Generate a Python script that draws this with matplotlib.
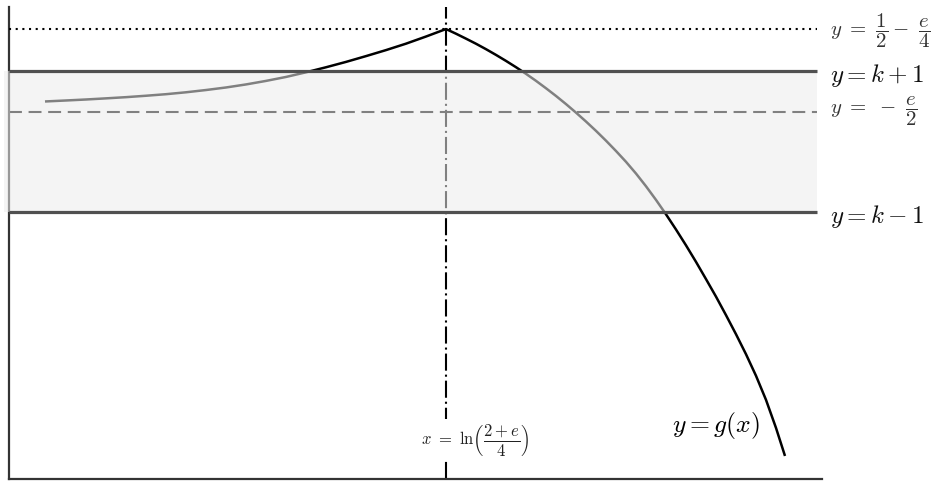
import numpy as np
import matplotlib
matplotlib.use("Agg")
import matplotlib.pyplot as plt

plt.rcParams['mathtext.fontset'] = 'cm'
plt.rcParams['font.family'] = ['DejaVu Sans']

# ---- data ----
E = np.e
x_peak = np.log((2 + E) / 4)          # x = ln((2+e)/4)
y_peak = 0.5 - E / 4                  # y = 1/2 - e/4
y_half_e = -E / 2                     # y = -e/2
k = -1.775
y_k_plus = k + 1
y_k_minus = k - 1

curve_x = [-3.845, -3.635, -3.435, -3.235, -3.035, -2.835, -2.635, -2.435, -2.235, -2.035,
           -1.835, -1.635, -1.435, -1.235, -1.035, -0.835, -0.635, -0.435, -0.235, -0.035,
           0.165,
           0.265, 0.365, 0.465, 0.565, 0.665, 0.765, 0.865, 0.965, 1.065, 1.165,
           1.265, 1.365, 1.465, 1.565, 1.665, 1.765, 1.865, 1.965, 2.065, 2.165,
           2.265, 2.365, 2.465, 2.565, 2.665, 2.765, 2.865, 2.965, 3.065, 3.165,
           3.265, 3.365, 3.465, 3.555]
curve_y = [-1.205, -1.191, -1.177, -1.161, -1.144, -1.124, -1.102, -1.075, -1.043, -1.007,
           -0.964, -0.914, -0.858, -0.792, -0.721, -0.645, -0.563, -0.478, -0.387, -0.286,
           -0.180,
           -0.246, -0.316, -0.388, -0.465, -0.546, -0.631, -0.720, -0.814, -0.913, -1.018,
           -1.127, -1.242, -1.363, -1.489, -1.621, -1.760, -1.906, -2.059, -2.225, -2.405,
           -2.598, -2.802, -3.017, -3.241, -3.475, -3.719, -3.967, -4.229, -4.499, -4.782,
           -5.087, -5.428, -5.825, -6.222]

x_min, x_max = -4.205, 3.925
y_min, y_max = -6.548, 0.132
line_end = 3.875

fig = plt.figure(figsize=(9.39, 4.88), dpi=100)
ax = fig.add_axes([9 / 939, 9 / 488, (822 - 9) / 939, (480 - 8) / 488])
ax.set_xlim(x_min, x_max)
ax.set_ylim(y_min, y_max)
ax.set_xticks([])
ax.set_yticks([])
for s in ['top', 'right']:
    ax.spines[s].set_visible(False)
for s in ['left', 'bottom']:
    ax.spines[s].set_color('#333333')
    ax.spines[s].set_linewidth(1.6)
    ax.spines[s].set_zorder(2)

# curve
ax.plot(curve_x, curve_y, color='black', lw=1.8, zorder=2,
        solid_capstyle='butt', solid_joinstyle='round')

# vertical dash-dot line
ax.plot([x_peak, x_peak], [y_min, y_max], color='black', lw=1.5,
        dashes=(8.2, 1.9, 1.0, 1.9), zorder=2)

# dashed -e/2 line
ax.plot([x_min, line_end], [y_half_e, y_half_e], color='black', lw=1.5,
        dashes=(6.2, 3.2), zorder=2)

# shaded band (overlay)
ax.fill_between([x_min - 0.05, line_end], y_k_minus, y_k_plus, color='0.92',
                alpha=0.55, lw=0, zorder=3, clip_on=False)

# k+1, k-1 lines
for yy in (y_k_plus, y_k_minus):
    ax.plot([x_min, line_end], [yy, yy], color='#505050', lw=2.3, zorder=4,
            solid_capstyle='butt')

# dotted peak line
ax.plot([x_min, line_end], [y_peak, y_peak], color='black', lw=1.5,
        linestyle=(0, (1, 2.2)), zorder=4)

# labels
tx = x_max + 0.08
ax.text(tx, y_peak - 0.03, r'$y\ =\ \dfrac{1}{2}-\ \dfrac{e}{4}$', fontsize=15,
        color='#333333', va='center', ha='left', clip_on=False)
ax.text(tx, y_k_plus - 0.06, r'$y=k+1$', fontsize=18, color='#111111',
        va='center', ha='left', clip_on=False)
ax.text(tx, y_half_e + 0.02, r'$y\ =\ -\ \dfrac{e}{2}$', fontsize=15,
        color='#333333', va='center', ha='left', clip_on=False)
ax.text(tx, y_k_minus - 0.06, r'$y=k-1$', fontsize=18, color='#111111',
        va='center', ha='left', clip_on=False)
ax.text(2.425, -5.79, r'$y=g(x)$', fontsize=18.5, color='black',
        va='center', ha='left')
ax.text(x_peak + 0.29, -5.995, r'$x\ =\ \ln\!\left(\dfrac{2+e}{4}\right)$',
        fontsize=12, color='#222222', va='center', ha='center', zorder=5,
        bbox=dict(facecolor='white', edgecolor='none', pad=2))

fig.savefig('out.png', dpi=100)
